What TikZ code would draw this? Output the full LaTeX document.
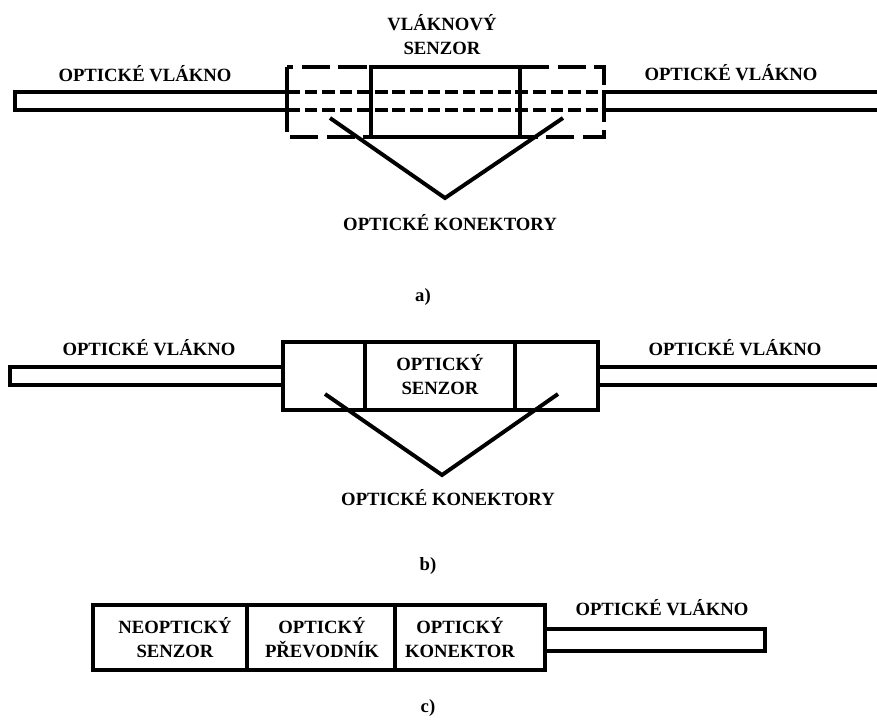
\documentclass[tikz,border=0pt]{standalone}
\usepackage{fontspec}
\setmainfont{Liberation Serif}
\usetikzlibrary{calc}

\begin{document}
\begin{tikzpicture}[line join=miter,
	obrys/.style={line width=2.8pt},
	carky/.style={line width=2.8pt, dash pattern=on 9pt off 3.5pt},
	ramecek/.style={line width=2.8pt, dash pattern=on 20pt off 6pt},
	popis/.style={font=\fontsize{13.3}{17}\selectfont\bfseries, align=center, inner sep=0pt}]
\useasboundingbox (0,0) rectangle (21.925,-18);
%========================
% a) fibre sensor
%========================
\begin{scope}
	% connectors (dashed) with the fibre running through
	\draw[ramecek] (7.175,-1.675) rectangle (15.1,-3.425);
	\draw[carky] (7.175,-2.3) -- (15.1,-2.3);
	\draw[carky] (7.175,-2.75) -- (15.1,-2.75);
	% sensor
	\draw[obrys] (9.275,-1.675) rectangle (13.0,-3.425);
	% fibres
	\draw[obrys] (0.375,-2.3) rectangle (7.175,-2.75);
	\draw[obrys] (21.925,-2.3) -- (15.1,-2.3) -- (15.1,-2.75) -- (21.925,-2.75);
	% labels
	\node[popis, anchor=base] (vlaknoA1) at (3.625,-2.025) {OPTICKÉ VLÁKNO};
	\node[popis, anchor=base] (vlaknoA2) at (18.275,-2.0) {OPTICKÉ VLÁKNO};
	\node[popis] (senzorA) at (11.05,-0.86) {VLÁKNOVÝ\\SENZOR};
	\node[popis, anchor=base] (konektoryA) at (11.25,-5.75) {OPTICKÉ KONEKTORY};
	\node[popis, anchor=base] (oznA) at (10.575,-7.54) {a)};
	% pointers to the connectors
	\coordinate (konA1) at (8.25,-2.95);
	\coordinate (konA2) at (14.075,-2.95);
	\coordinate (hrotA) at (11.125,-4.95);
	\draw[obrys] (konA1) -- (hrotA) -- (konA2);
\end{scope}

%========================
% b) optical sensor
%========================
\begin{scope}
	% connectors + sensor
	\draw[obrys] (7.075,-8.55) rectangle (14.95,-10.25);
	\draw[obrys] (9.125,-8.55) -- (9.125,-10.25);
	\draw[obrys] (12.875,-8.55) -- (12.875,-10.25);
	% fibres
	\draw[obrys] (0.25,-9.175) rectangle (7.075,-9.625);
	\draw[obrys] (21.925,-9.175) -- (14.95,-9.175) -- (14.95,-9.625) -- (21.925,-9.625);
	% labels
	\node[popis, anchor=base] (vlaknoB1) at (3.725,-8.875) {OPTICKÉ VLÁKNO};
	\node[popis, anchor=base] (vlaknoB2) at (18.375,-8.875) {OPTICKÉ VLÁKNO};
	\node[popis] (senzorB) at (11.0,-9.375) {OPTICKÝ\\SENZOR};
	\node[popis, anchor=base] (konektoryB) at (11.2,-12.625) {OPTICKÉ KONEKTORY};
	\node[popis, anchor=base] (oznB) at (10.7,-14.25) {b)};
	% pointers to the connectors
	\coordinate (konB1) at (8.125,-9.85);
	\coordinate (konB2) at (13.95,-9.85);
	\coordinate (hrotB) at (11.05,-11.875);
	\draw[obrys] (konB1) -- (hrotB) -- (konB2);
\end{scope}

%========================
% c) non-optical sensor
%========================
\begin{scope}
	\draw[obrys] (2.325,-15.125) rectangle (13.625,-16.75);
	\draw[obrys] (6.175,-15.125) -- (6.175,-16.75);
	\draw[obrys] (9.875,-15.125) -- (9.875,-16.75);
	% fibre
	\draw[obrys] (13.625,-15.725) rectangle (19.125,-16.275);
	% labels
	\node[popis] (neopt) at (4.375,-15.95) {NEOPTICKÝ\\SENZOR};
	\node[popis] (prevodnik) at (8.05,-15.95) {OPTICKÝ\\PŘEVODNÍK};
	\node[popis] (konektorC) at (11.5,-15.95) {OPTICKÝ\\KONEKTOR};
	\node[popis, anchor=base] (vlaknoC) at (16.55,-15.375) {OPTICKÉ VLÁKNO};
	\node[popis, anchor=base] (oznC) at (10.7,-17.8) {c)};
\end{scope}
\end{tikzpicture}
\end{document}
